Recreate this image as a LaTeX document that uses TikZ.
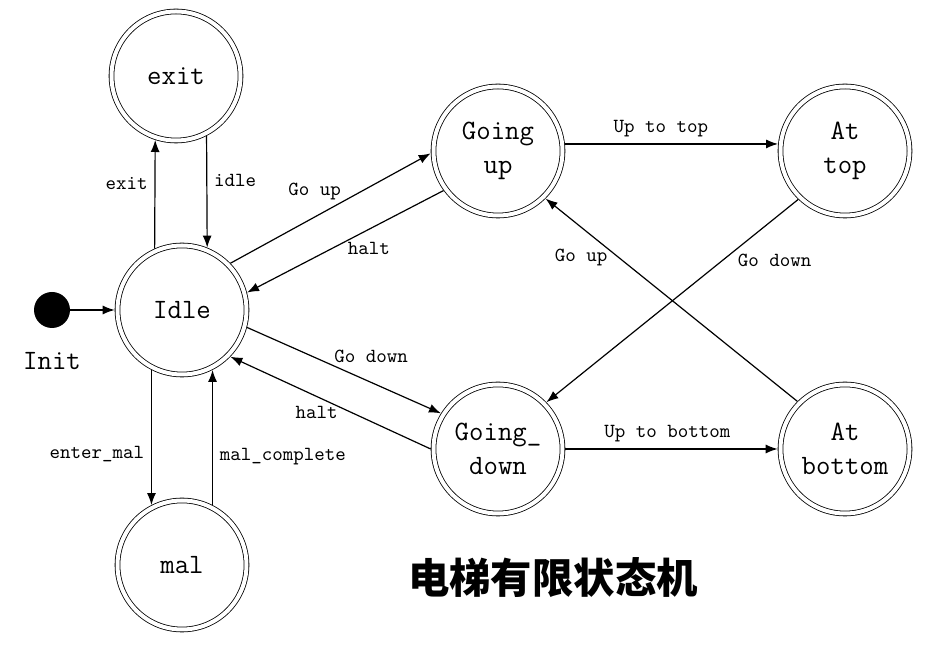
\documentclass[tikz,border=0pt]{standalone}
\usepackage{fontspec}
\newfontfamily\cjkfont{Noto Sans CJK SC}
\usetikzlibrary{arrows.meta,positioning}

\begin{document}
\begin{tikzpicture}[x=0.5pt,y=0.5pt,
    state/.style = {circle,draw,line width=0.4pt,double,double distance=2pt,minimum size=64.5pt,inner sep=0pt,outer sep=1.4pt,align=center,font=\fontsize{14}{17}\selectfont\ttfamily},
    trans/.style = {-{Latex[length=6pt,width=4.5pt]},line width=0.6pt,every node/.style={font=\fontsize{10}{12}\selectfont\ttfamily}}]
\useasboundingbox (0,0) rectangle (938,664);
% states
\node[state] (exit) at (176,588) {exit};
\node[state] (idle) at (182,354) {Idle};
\node[state] (mal) at (182,99) {mal};
\node[state] (goingup) at (498,513) {Going\\up};
\node[state] (attop) at (845,513) {At\\top};
\node[state] (goingdown) at (498,215) {Going\_\\down};
\node[state] (atbottom) at (845,215) {At\\bottom};
% initial state
\node[circle,fill,minimum size=18pt,inner sep=0pt] (init) at (52,354) {};
\node[below=8.5pt of init,font=\fontsize{14}{17}\selectfont\ttfamily] (initlabel) {Init};
% transitions
\draw[trans] (init) -- (idle);
\draw[trans] (idle.114) -- node[left,pos=0.6] {exit} (exit.252);
\draw[trans] (exit.297) -- node[right,pos=0.4] {idle} (idle.68);
\draw[trans] (idle.44) -- node[above=5pt,pos=0.42] {Go up} (goingup.182);
\draw[trans] (goingup.216) -- node[below=3pt,pos=0.38] {halt} (idle.15);
\draw[trans] (idle.345) -- node[above=6pt,pos=0.64] {Go down} (goingdown.148);
\draw[trans] (goingdown.180) -- node[below=1.5pt,pos=0.57] {halt} (idle.316);
\draw[trans] (idle.243) -- node[left,pos=0.62] {enter\_mal} (mal.117);
\draw[trans] (mal.63) -- node[right,pos=0.36] {mal\_complete} (idle.297);
\draw[trans] (goingup.6) -- node[above,pos=0.45] {Up to top} (attop.174);
\draw[trans] (attop.226) -- node[right=4pt,pos=0.3] {Go down} (goingdown.44);
\draw[trans] (atbottom.135) -- node[left=2pt,pos=0.71] {Go up} (goingup.315);
\draw[trans] (goingdown.0) -- node[above,pos=0.48] {Up to bottom} (atbottom.180);
% title
\node[font=\cjkfont\bfseries\fontsize{20.7}{24}\selectfont] (title) at (553,86) {电梯有限状态机};
\end{tikzpicture}
\end{document}
